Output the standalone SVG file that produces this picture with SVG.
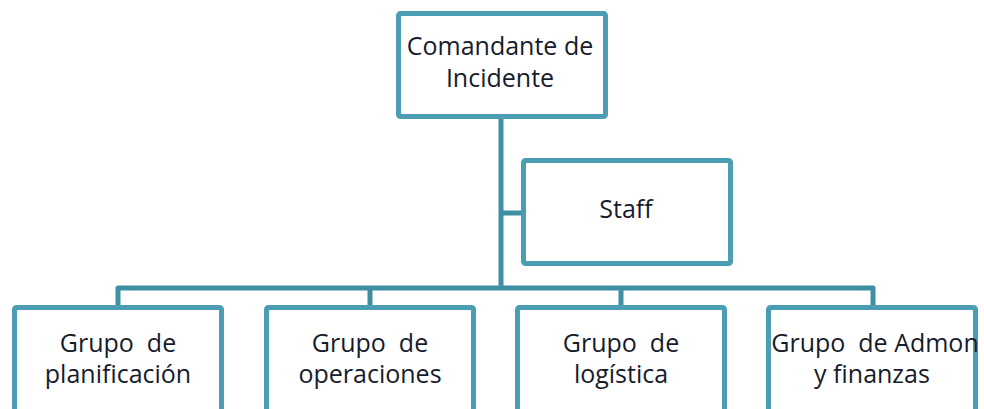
<svg xmlns="http://www.w3.org/2000/svg" width="984" height="409" viewBox="0 0 984 409">
<style>
.box{fill:#ffffff;stroke:#4a9db2;stroke-width:5;}
.lbl{font-family:"Open Sans","Liberation Sans",sans-serif;font-size:25px;fill:#161c2b;text-anchor:middle;}
.conn{fill:none;stroke:#3f8fa2;stroke-width:5;stroke-linejoin:round;stroke-linecap:butt;}
</style>
<rect width="984" height="409" fill="#ffffff"/>
<g id="connectors">
<path class="conn" d="M501 119 V288"/>
<path class="conn" d="M499 213 H522"/>
<path class="conn" d="M118 306 V288 H873 V306"/>
<path class="conn" d="M370 288 V306"/>
<path class="conn" d="M621 288 V306"/>
</g>
<g id="comandante">
<rect class="box" x="398.5" y="13.5" width="207" height="103" rx="2"/>
<text class="lbl" x="500" y="55">Comandante de</text>
<text class="lbl" x="500" y="87">Incidente</text>
</g>
<g id="staff">
<rect class="box" x="523.5" y="160.5" width="207" height="103" rx="2"/>
<text class="lbl" x="626" y="218">Staff</text>
</g>
<g id="planificacion">
<rect class="box" x="14.5" y="307.5" width="207" height="115" rx="2"/>
<text class="lbl" x="118" y="352" xml:space="preserve">Grupo  de</text>
<text class="lbl" x="118" y="383">planificación</text>
</g>
<g id="operaciones">
<rect class="box" x="266.5" y="307.5" width="207" height="115" rx="2"/>
<text class="lbl" x="370" y="352" xml:space="preserve">Grupo  de</text>
<text class="lbl" x="370" y="383">operaciones</text>
</g>
<g id="logistica">
<rect class="box" x="517.5" y="307.5" width="207" height="115" rx="2"/>
<text class="lbl" x="621" y="352" xml:space="preserve">Grupo  de</text>
<text class="lbl" x="621" y="383">logística</text>
</g>
<g id="admon">
<rect class="box" x="768.5" y="307.5" width="207" height="115" rx="2"/>
<text class="lbl" x="875" y="352" xml:space="preserve">Grupo  de Admon</text>
<text class="lbl" x="872" y="383">y finanzas</text>
</g>
</svg>
